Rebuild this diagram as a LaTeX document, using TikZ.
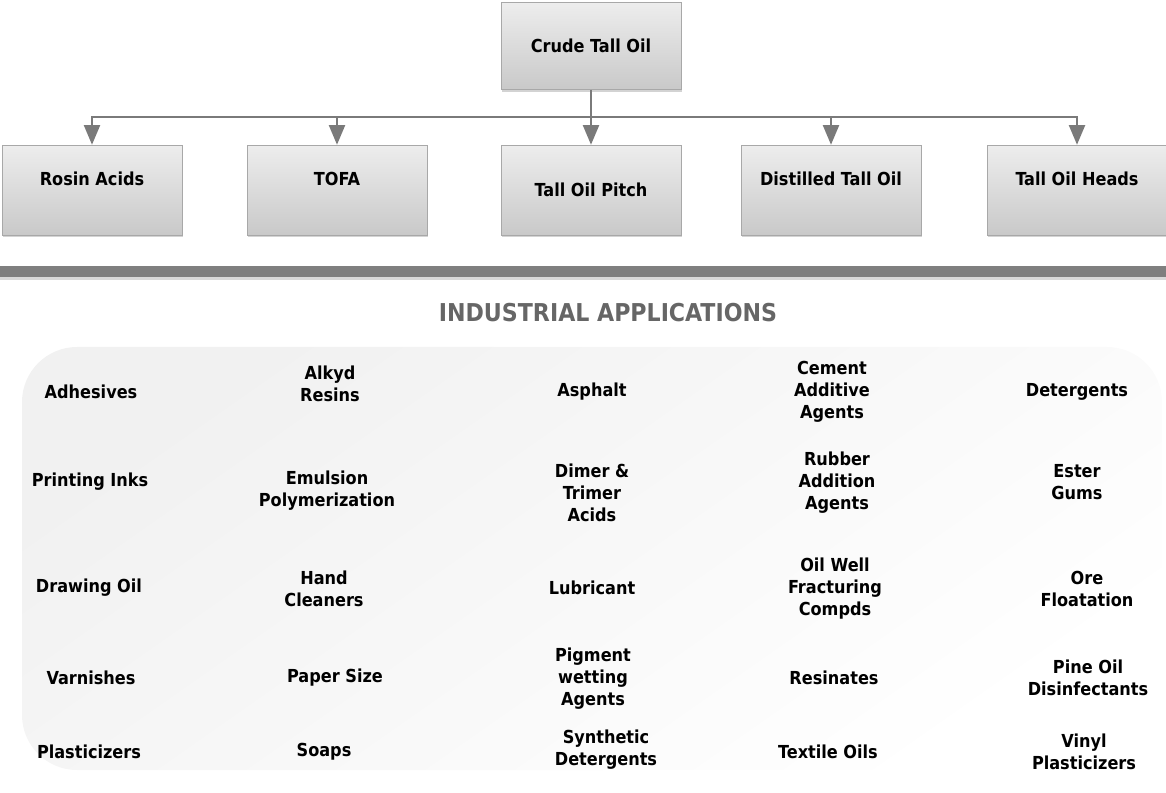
\documentclass[tikz,border=0pt]{standalone}
\usepackage{fontspec}
\setmainfont{DejaVu Sans Condensed}
\usepackage{tikz}
\usetikzlibrary{
    calc,
    arrows,
    shadows,
    positioning
}
\definecolor{boxtop}{HTML}{EDEDED}
\definecolor{boxbot}{HTML}{C9C9C9}
\definecolor{boxline}{HTML}{A8A8A8}
\definecolor{linkgray}{HTML}{7A7A7A}
\definecolor{bargray}{HTML}{7F7F7F}
\definecolor{titlegray}{HTML}{666666}
\definecolor{panelgray}{HTML}{F1F1F1}
\tikzset{
    product/.style={draw=boxline, top color=boxtop, bottom color=boxbot,
        minimum width=3.6cm, minimum height=1.8cm, inner sep=0pt,
        font=\bfseries\fontsize{10.2}{12}\selectfont,
        drop shadow={shadow xshift=0.6pt, shadow yshift=-1.2pt, opacity=0.35}},
    raised/.style={text height=0.25cm, text depth=0.41cm},
    link/.style={draw=linkgray, line width=1.6pt},
    app/.style={align=center, font=\bfseries\fontsize{10.2}{12.5}\selectfont}
}

\begin{document}
\begin{tikzpicture}[x=0.02cm, y=-0.02cm]
    \useasboundingbox (0,0) rectangle (1166,793);

    % feedstock and its fractions
    \node[product, minimum height=1.74cm] (crude) at (591,46) {Crude Tall Oil};
    \foreach \n/\x/\t/\s in {rosin/92/Rosin Acids/raised, tofa/337/TOFA/raised,
        pitch/591/Tall Oil Pitch/, distilled/831/Distilled Tall Oil/raised,
        heads/1077/Tall Oil Heads/raised} {
        \node[product,\s] (\n) at (\x,190) {\t};
    }
    \coordinate (split) at (591,117);
    \draw[link] (crude.south) -- (split);
    \foreach \n in {rosin,tofa,pitch,distilled,heads} {
        \draw[link, -triangle 45] (split) -| (\n.north);
    }

    % separator
    \path[fill=bargray, drop shadow={shadow xshift=0pt, shadow yshift=-1.5pt, opacity=0.3}]
        (0,266) rectangle (1166,277);
    \node[font=\bfseries\fontsize{14}{14}\selectfont, text=titlegray] (title) at (608,313)
        {INDUSTRIAL APPLICATIONS};

    % applications panel
    \path[rounded corners=1.1cm, top color=panelgray, bottom color=white, shading angle=35]
        (22,347) rectangle (1162,770);
    \foreach \x/\y/\t [count=\i] in {
        91/392/Adhesives, 330/384/Alkyd\\Resins, 592/392/Asphalt,
        832/392/Cement\\Additive\\Agents, 1077/392/Detergents,
        90/482/Printing Inks, 327/491/Emulsion\\Polymerization, 592/493/Dimer \&\\Trimer\\Acids,
        837/483/Rubber\\Addition\\Agents, 1077/482/Ester\\Gums,
        89/588/Drawing Oil, 324/589/Hand\\Cleaners, 592/588/Lubricant,
        835/589/Oil Well\\Fracturing\\Compds, 1087/589/Ore\\Floatation,
        91/678/Varnishes, 335/678/Paper Size, 593/679/Pigment\\wetting\\Agents,
        834/678/Resinates, 1088/678/Pine Oil\\Disinfectants,
        89/752/Plasticizers, 324/752/Soaps, 606/750/Synthetic\\Detergents,
        828/752/Textile Oils, 1084/752/Vinyl\\Plasticizers} {
        \node[app] (app\i) at (\x,\y) {\t};
    }
\end{tikzpicture}
\end{document}
